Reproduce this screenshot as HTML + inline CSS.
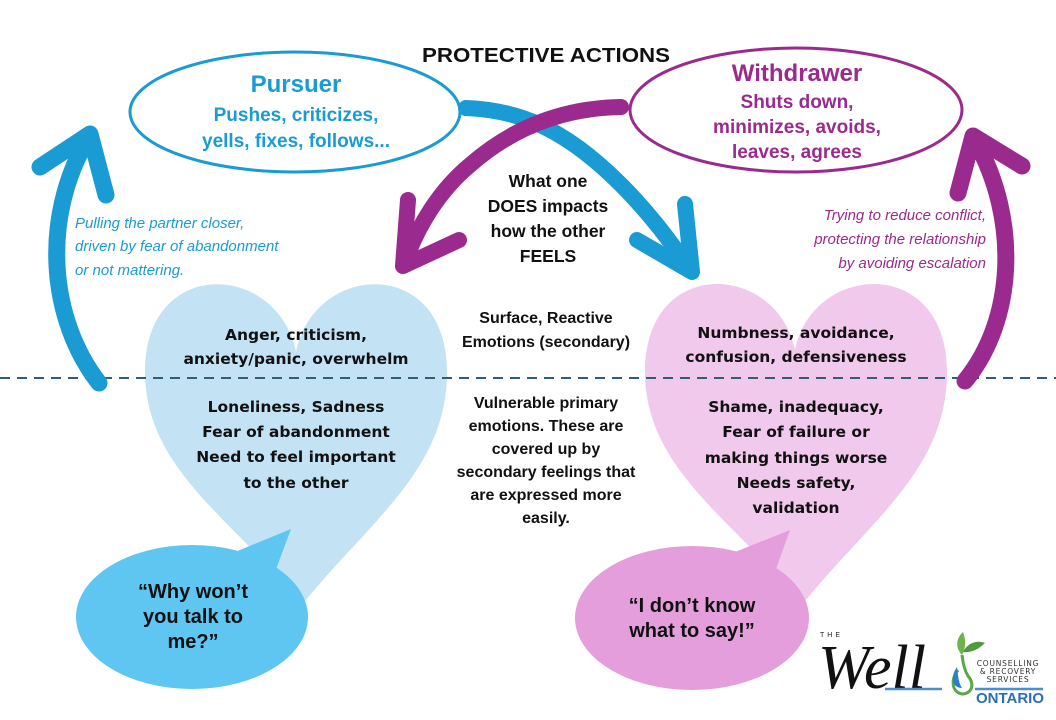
<!DOCTYPE html>
<html><head><meta charset="utf-8"><style>
html,body{margin:0;padding:0;background:#fff;}
svg{display:block;}
.c{font-family:"Liberation Sans",sans-serif;font-weight:bold;}
.v{font-family:"DejaVu Sans","Liberation Sans",sans-serif;font-weight:bold;font-size:15.5px;fill:#111;}
.i{font-family:"Liberation Sans",sans-serif;font-style:italic;font-size:15px;}
</style></head><body>
<svg width="1056" height="720" viewBox="0 0 1056 720" xmlns="http://www.w3.org/2000/svg">
<!-- hearts -->
<path d="M296,352 C278,262 145,255 145,372 C145,470 235,520 302,605 C370,520 447,470 447,372 C447,255 314,262 296,352 Z" fill="#c3e3f4"/>
<path d="M795,350 C777,262 645,255 645,372 C645,470 735,520 802,605 C870,520 947,470 947,372 C947,255 813,262 795,350 Z" fill="#f0c9ec"/>
<!-- bubbles -->
<path d="M235,552 L291,529 L272,580 Z" fill="#5ec6f1"/>
<ellipse cx="192" cy="617" rx="116" ry="72" fill="#5ec6f1"/>
<path d="M735,552 L790,530 L772,580 Z" fill="#e49edb"/>
<ellipse cx="692" cy="618" rx="117" ry="72" fill="#e49edb"/>
<!-- dashed line -->
<line x1="0" y1="378" x2="1056" y2="378" stroke="#2f5f78" stroke-width="2" stroke-dasharray="10,7"/>
<!-- ellipses -->
<ellipse cx="295" cy="112" rx="165" ry="60" fill="#fff" stroke="#1a9bd4" stroke-width="3"/>
<ellipse cx="796" cy="110" rx="166" ry="62" fill="#fff" stroke="#9a2a8e" stroke-width="3"/>
<!-- middle arrows -->
<g fill="none" stroke-linecap="round" stroke-linejoin="round" stroke-width="16">
<path d="M466,108 C520,110 560,130 600,165 C640,200 670,240 690,270" stroke="#1a9bd4"/>
<path d="M637,240 L692,272 L685,204" stroke="#1a9bd4"/>
<path d="M621,107 C560,108 510,130 470,165 C440,190 418,225 405,262" stroke="#9a2a8e"/>
<path d="M408,200 L403,266 L459,240" stroke="#9a2a8e"/>
<!-- side arrows -->
<path d="M99,383 C50,320 40,220 88,138" stroke="#1a9bd4" stroke-width="17"/>
<path d="M40,167 L90,134 L106,195" stroke="#1a9bd4" stroke-width="17"/>
<path d="M965,381 C1015,320 1020,220 975,140" stroke="#9a2a8e" stroke-width="17"/>
<path d="M958,193 L973,136 L1022,166" stroke="#9a2a8e" stroke-width="17"/>
</g>
<!-- title -->
<text x="546" y="62" class="c" font-size="20" fill="#111" text-anchor="middle" textLength="248" lengthAdjust="spacingAndGlyphs">PROTECTIVE ACTIONS</text>
<!-- pursuer -->
<g class="c" fill="#1a9bd4" text-anchor="middle">
<text x="296" y="92" font-size="24">Pursuer</text>
<text x="296" y="121" font-size="19">Pushes, criticizes,</text>
<text x="296" y="147" font-size="19">yells, fixes, follows...</text>
</g>
<g class="c" fill="#9a2a8e" text-anchor="middle">
<text x="797" y="81" font-size="24">Withdrawer</text>
<text x="797" y="108" font-size="19">Shuts down,</text>
<text x="797" y="133" font-size="19">minimizes, avoids,</text>
<text x="797" y="158" font-size="19">leaves, agrees</text>
</g>
<g class="c" fill="#111" text-anchor="middle" font-size="17.5">
<text x="548" y="187">What one</text>
<text x="548" y="212">DOES impacts</text>
<text x="548" y="237">how the other</text>
<text x="548" y="262">FEELS</text>
</g>
<g class="i" fill="#1a9bd4">
<text x="75" y="228">Pulling the partner closer,</text>
<text x="75" y="251">driven by fear of abandonment</text>
<text x="75" y="275">or not mattering.</text>
</g>
<g class="i" fill="#9a2a8e" text-anchor="end">
<text x="986" y="220">Trying to reduce conflict,</text>
<text x="986" y="244">protecting the relationship</text>
<text x="986" y="268">by avoiding escalation</text>
</g>
<!-- heart texts -->
<g class="v" text-anchor="middle">
<text x="296" y="340">Anger, criticism,</text>
<text x="296" y="364">anxiety/panic, overwhelm</text>
<text x="296" y="412">Loneliness, Sadness</text>
<text x="296" y="437">Fear of abandonment</text>
<text x="296" y="462">Need to feel important</text>
<text x="296" y="488">to the other</text>
<text x="796" y="338">Numbness, avoidance,</text>
<text x="796" y="362">confusion, defensiveness</text>
<text x="796" y="412">Shame, inadequacy,</text>
<text x="796" y="437">Fear of failure or</text>
<text x="796" y="463">making things worse</text>
<text x="796" y="488">Needs safety,</text>
<text x="796" y="513">validation</text>
</g>
<g class="c" fill="#111" text-anchor="middle" font-size="16">
<text x="546" y="323">Surface, Reactive</text>
<text x="546" y="347">Emotions (secondary)</text>
<text x="546" y="408">Vulnerable primary</text>
<text x="546" y="431">emotions. These are</text>
<text x="546" y="454">covered up by</text>
<text x="546" y="477">secondary feelings that</text>
<text x="546" y="500">are expressed more</text>
<text x="546" y="523">easily.</text>
</g>
<g class="c" fill="#111" text-anchor="middle" font-size="20">
<text x="193" y="598">“Why won’t</text>
<text x="193" y="623">you talk to</text>
<text x="193" y="648">me?”</text>
<text x="692" y="612">“I don’t know</text>
<text x="692" y="637">what to say!”</text>
</g>
<!-- logo -->
<text x="820" y="637" font-family="Liberation Sans,sans-serif" font-size="7" letter-spacing="3" fill="#222">THE</text>
<text x="818" y="688" font-family="Liberation Serif,serif" font-style="italic" font-size="62" fill="#111">Well</text>
<line x1="885" y1="689" x2="942" y2="689" stroke="#4a8ed0" stroke-width="2.5"/>
<line x1="975" y1="689" x2="1043" y2="689" stroke="#4a8ed0" stroke-width="2.5"/>
<path d="M958,670 C950,680 952,692 962,694 C972,694 975,684 968,676 C965,671 963,664 962,655" fill="none" stroke="#5aa845" stroke-width="3"/>
<path d="M957,667 C950,677 952,688 962,688 C958,682 958,674 957,667 Z" fill="#2a80c8"/>
<path d="M962,655 C955,648 956,638 963,632 C966,640 966,648 962,655 Z" fill="#6bb54a"/>
<path d="M963,652 C968,642 978,640 985,643 C978,650 970,653 963,652 Z" fill="#4e9a3c"/>
<g font-family="DejaVu Sans,sans-serif" font-size="7.5" fill="#333" text-anchor="middle" letter-spacing="0.8">
<text x="1008" y="666">COUNSELLING</text>
<text x="1008" y="674">&amp; RECOVERY</text>
<text x="1008" y="682">SERVICES</text>
</g>
<text x="1010" y="703" font-family="Liberation Sans,sans-serif" font-weight="bold" font-size="15" fill="#2a6fb5" text-anchor="middle">ONTARIO</text>
</svg>
</body></html>
